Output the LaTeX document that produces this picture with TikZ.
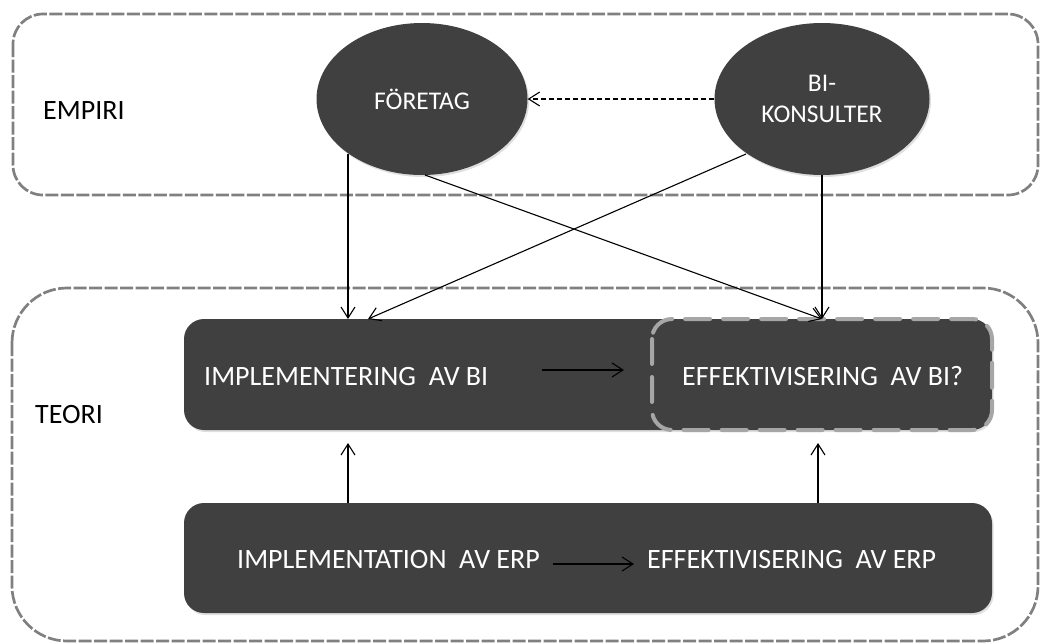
\documentclass[tikz,border=0pt]{standalone}
\usepackage{fontspec}
\setmainfont{Carlito}
\usetikzlibrary{arrows.meta,shapes.geometric,shadows}
\definecolor{darkfill}{HTML}{404040}
\definecolor{framegray}{HTML}{808080}
\definecolor{innergray}{HTML}{A6A6A6}
\begin{document}
\begin{tikzpicture}[x=1pt,y=-1pt,
  frame/.style={draw=framegray,line width=2.7pt,dash pattern=on 13pt off 2.5pt},
  darkbox/.style={fill=darkfill,rounded corners=20pt,drop shadow={shadow xshift=1.5pt,shadow yshift=-2pt,opacity=0.25}},
  ell/.style={ellipse,fill=darkfill,text=white,font=\fontsize{25.5}{29}\selectfont,align=center,inner sep=0pt,
    drop shadow={shadow xshift=1.5pt,shadow yshift=-2pt,opacity=0.25}},
  lbl/.style={anchor=base west,inner sep=0pt,font=\fontsize{28}{32}\selectfont},
  wlbl/.style={lbl,text=white},
  conn/.style={line width=1.1pt,-{Straight Barb[length=11pt,width=14pt,line width=1.1pt]}}]
\useasboundingbox (0,0) rectangle (1040,643);
% frames
\draw[frame,rounded corners=30pt] (13,14) rectangle (1038,195);
\draw[frame,rounded corners=55pt] (12,288) rectangle (1038,641);
% labels
\node[lbl] (empiri) at (43,119) {EMPIRI};
\node[lbl] (teori) at (35,423) {TEORI};
% ellipses
\node[ell,minimum width=211pt,minimum height=152pt] (foretag) at (422,99) {FÖRETAG};
\node[ell,minimum width=215pt,minimum height=152pt] (konsult) at (822,99) {BI-\\[2pt]KONSULTER};
% boxes
\path[darkbox] (184,319) rectangle (992,430);
\coordinate (bitopL) at (348,319);
\coordinate (bitopR) at (822,319);
\coordinate (bibotL) at (348,443);
\coordinate (bibotR) at (818,443);
\draw[draw=innergray,line width=4pt,dash pattern=on 25pt off 13pt,line cap=round,rounded corners=20pt]
  (652,319) rectangle (992,430);
\path[darkbox] (184,503) rectangle (992,613);
\coordinate (erptopL) at (348,503);
\coordinate (erptopR) at (818,503);
% texts
\node[wlbl] (impbi) at (204,385) {IMPLEMENTERING\ \ AV\ BI};
\node[wlbl] (effbi) at (682,385) {EFFEKTIVISERING\ \ AV\ BI?};
\node[wlbl] (imperp) at (237,568) {IMPLEMENTATION\ \ AV\ ERP};
\node[wlbl] (efferp) at (647,568) {EFFEKTIVISERING\ \ AV\ ERP};
% inner arrows
\coordinate (a1s) at (542,370); \coordinate (a1e) at (624,370);
\coordinate (a2s) at (553,564); \coordinate (a2e) at (634,564);
\draw[conn] (a1s) -- (a1e);
\draw[conn] (a2s) -- (a2e);
% connectors
\draw[line width=1.1pt,dash pattern=on 5pt off 3pt,-{Straight Barb[length=11pt,width=14pt,line width=1.1pt]}]
  (konsult.west) -- (foretag.east);
\coordinate (f1) at (348,154);
\coordinate (f2) at (425,175);
\coordinate (k1) at (746,154);
\draw[conn] (f1) -- (bitopL);
\draw[conn] (f2) -- (bitopR);
\draw[conn] (k1) -- (368,319);
\draw[conn] (konsult.south) -- (bitopR);
\draw[conn] (erptopL) -- (bibotL);
\draw[conn] (erptopR) -- (bibotR);
\end{tikzpicture}
\end{document}
